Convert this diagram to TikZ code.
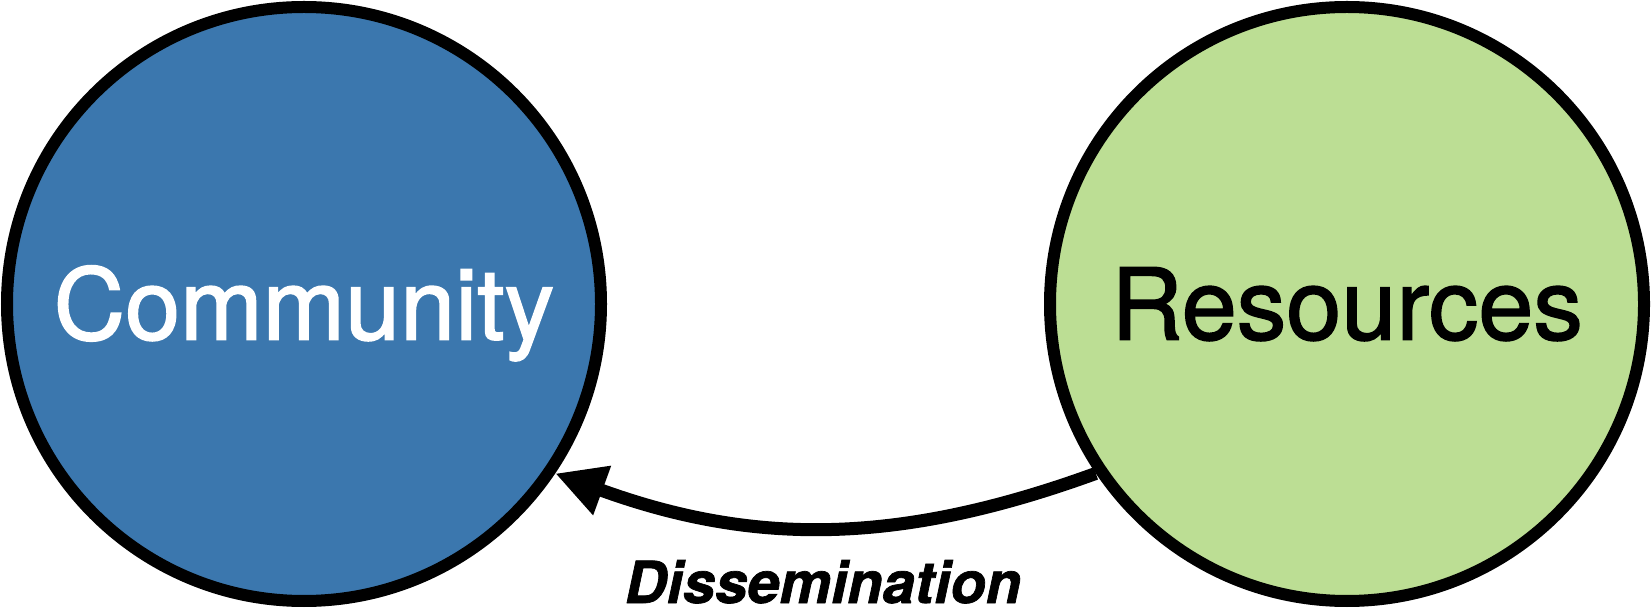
\documentclass[tikz,border=0pt]{standalone}
\usepackage{fontspec}
\setmainfont{TeX Gyre Heros}
\newfontfamily\circfont[FakeBold=1.6]{TeX Gyre Heros}
\newfontfamily\flowfont[FakeBold=1.2]{TeX Gyre Heros Bold Italic}
\usetikzlibrary{arrows.meta}
\definecolor{commblue}{RGB}{59,119,174}
\definecolor{resgreen}{RGB}{188,222,148}
\begin{document}
\begin{tikzpicture}[x=1pt,y=1pt,
  bubble/.style={circle, draw=black, line width=12pt, minimum size=594pt, inner sep=0pt,
    text depth=0pt, text height=71pt, font=\circfont\fontsize{99}{110}\selectfont},
  flow/.style={line width=13pt, -{Triangle[length=50pt,width=49pt]}},
  flowlabel/.style={font=\flowfont\fontsize{58}{64}\selectfont, anchor=base,
    inner sep=0pt, text depth=0pt}]
\useasboundingbox (0,0) rectangle (1652,608);
\node[bubble, fill=commblue, text=white] (com) at (304,304) {Community};
\node[bubble, fill=resgreen, text=black] (res) at (1347,304) {Resources};
\draw[flow] (res.214) to[out=200,in=-20] (com.-34);
\node[flowlabel] (dis) at (823,5) {Dissemination};
\end{tikzpicture}
\end{document}
